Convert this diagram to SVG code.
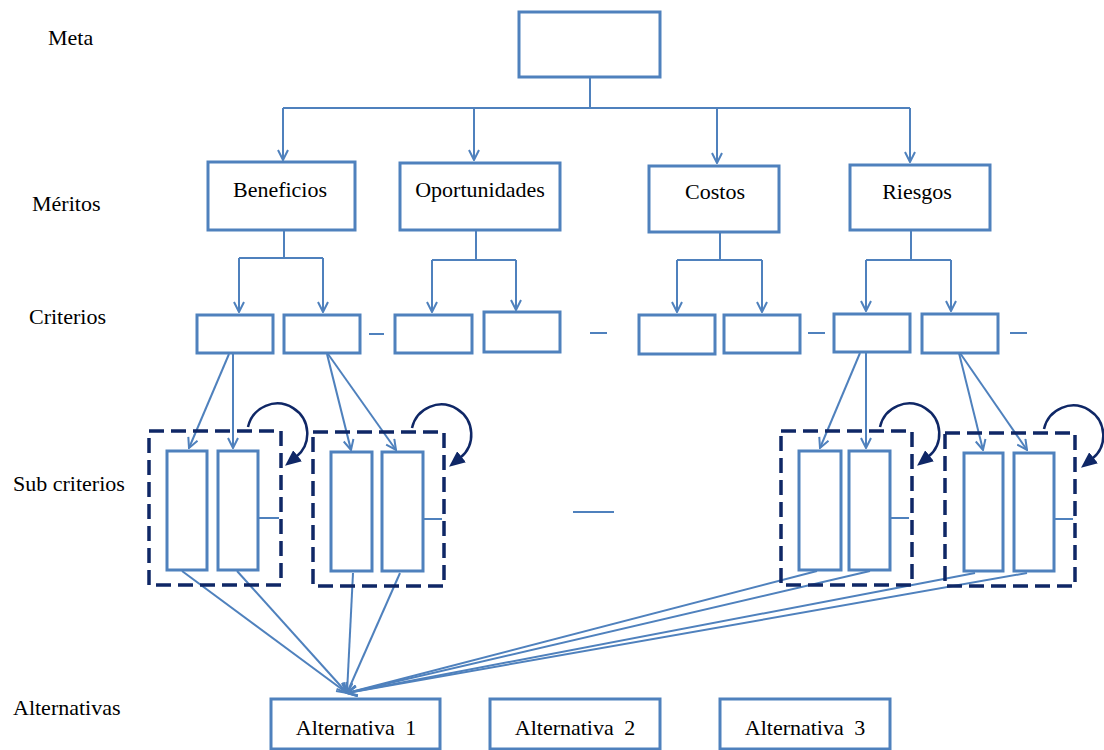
<svg xmlns="http://www.w3.org/2000/svg" width="1104" height="750" viewBox="0 0 1104 750">
<defs>
<style>
.box{fill:#fff;stroke:#4F81BD;stroke-width:3}
.con{fill:none;stroke:#4F81BD;stroke-width:2}
.dash{fill:none;stroke:#0F2766;stroke-width:3.5;stroke-dasharray:15 7}
.loop{fill:none;stroke:#0F2766;stroke-width:2.5}
.lbl{font-family:"Liberation Serif","Times New Roman",serif;font-size:22px;fill:#000}
.ctr{text-anchor:middle}
</style>
<marker id="av" viewBox="0 0 12 12" refX="11" refY="6" markerWidth="12" markerHeight="12" markerUnits="userSpaceOnUse" orient="auto">
<path d="M1,1 L11,6 L1,11" fill="none" stroke="#4F81BD" stroke-width="2"/>
</marker>
<marker id="ah" viewBox="0 0 16 14" refX="2" refY="7" markerWidth="16" markerHeight="14" markerUnits="userSpaceOnUse" orient="auto">
<path d="M0,0 L16,7 L0,14 Z" fill="#0F2766"/>
</marker>
</defs>

<g id="level-labels">
<text class="lbl" x="48" y="45">Meta</text>
<text class="lbl" x="32" y="211">Méritos</text>
<text class="lbl" x="29" y="324">Criterios</text>
<text class="lbl" x="13" y="491">Sub criterios</text>
<text class="lbl" x="13" y="715">Alternativas</text>
</g>

<g id="connectors">
<path class="con" d="M590,77 V108 M283,108 H910"/>
<path class="con" d="M283,108 V160" marker-end="url(#av)"/>
<path class="con" d="M474,108 V160" marker-end="url(#av)"/>
<path class="con" d="M717,108 V163" marker-end="url(#av)"/>
<path class="con" d="M910,108 V162" marker-end="url(#av)"/>
<path class="con" d="M284,231 V258 M239,258 H323"/>
<path class="con" d="M239,258 V312" marker-end="url(#av)"/>
<path class="con" d="M323,258 V312" marker-end="url(#av)"/>
<path class="con" d="M476,231 V260 M432,260 H516"/>
<path class="con" d="M432,260 V312" marker-end="url(#av)"/>
<path class="con" d="M516,260 V310" marker-end="url(#av)"/>
<path class="con" d="M720,233 V260 M677,260 H762"/>
<path class="con" d="M677,260 V312" marker-end="url(#av)"/>
<path class="con" d="M762,260 V312" marker-end="url(#av)"/>
<path class="con" d="M911,231 V260 M866,260 H951"/>
<path class="con" d="M866,260 V311" marker-end="url(#av)"/>
<path class="con" d="M951,260 V311" marker-end="url(#av)"/>
<path class="con" d="M229,354 L189,448" marker-end="url(#av)"/>
<path class="con" d="M233,354 L233,448" marker-end="url(#av)"/>
<path class="con" d="M327,354 L351,450" marker-end="url(#av)"/>
<path class="con" d="M328,354 L396,450" marker-end="url(#av)"/>
<path class="con" d="M860,353 L820,448" marker-end="url(#av)"/>
<path class="con" d="M866,353 L866,448" marker-end="url(#av)"/>
<path class="con" d="M959,353 L983,450" marker-end="url(#av)"/>
<path class="con" d="M960,353 L1027,450" marker-end="url(#av)"/>
<path class="con" d="M182,571 L347,693" marker-end="url(#av)"/>
<path class="con" d="M237,571 L347,693" marker-end="url(#av)"/>
<path class="con" d="M353,573 L347,693" marker-end="url(#av)"/>
<path class="con" d="M400,573 L347,693" marker-end="url(#av)"/>
<path class="con" d="M817,571 L347,693" marker-end="url(#av)"/>
<path class="con" d="M870,571 L347,693" marker-end="url(#av)"/>
<path class="con" d="M975,573 L347,693" marker-end="url(#av)"/>
<path class="con" d="M1027,573 L347,693" marker-end="url(#av)"/>
<path class="con" d="M369,334 H384 M590,333 H607 M808,333 H825 M1010,333 H1027 M573,512 H614"/>
</g>

<g id="meta"><rect class="box" x="519" y="12" width="141" height="65"/></g>

<g id="beneficios"><rect class="box" x="208" y="162" width="147" height="68"/><text class="lbl ctr" x="280" y="197">Beneficios</text></g>
<g id="oportunidades"><rect class="box" x="400" y="163" width="160" height="67"/><text class="lbl ctr" x="480" y="197">Oportunidades</text></g>
<g id="costos"><rect class="box" x="649" y="166" width="130" height="66"/><text class="lbl ctr" x="715" y="199">Costos</text></g>
<g id="riesgos"><rect class="box" x="850" y="165" width="140" height="65"/><text class="lbl ctr" x="917" y="199">Riesgos</text></g>

<g id="criterio-1"><rect class="box" x="197" y="315" width="76" height="38"/></g>
<g id="criterio-2"><rect class="box" x="284" y="315" width="76" height="38"/></g>
<g id="criterio-3"><rect class="box" x="395" y="315" width="77" height="38"/></g>
<g id="criterio-4"><rect class="box" x="484" y="312" width="76" height="40"/></g>
<g id="criterio-5"><rect class="box" x="639" y="315" width="76" height="39"/></g>
<g id="criterio-6"><rect class="box" x="724" y="315" width="76" height="38"/></g>
<g id="criterio-7"><rect class="box" x="834" y="314" width="76" height="38"/></g>
<g id="criterio-8"><rect class="box" x="922" y="314" width="76" height="39"/></g>

<g id="subcriterios-1">
<rect class="dash" x="149" y="431" width="132" height="154"/>
<rect class="box" x="167" y="451" width="40" height="119"/>
<rect class="box" x="218" y="451" width="40" height="119"/>
<path class="con" d="M258,518 H279"/>
<path class="loop" d="M248,427 A30,30 0 1 1 296,457" marker-end="url(#ah)"/>
</g>
<g id="subcriterios-2" transform="translate(164,1)">
<rect class="dash" x="149" y="431" width="131" height="154"/>
<rect class="box" x="167" y="451" width="41" height="119"/>
<rect class="box" x="218" y="451" width="41" height="119"/>
<path class="con" d="M259,518 H278"/>
<path class="loop" d="M248,427 A30,30 0 1 1 296,457" marker-end="url(#ah)"/>
</g>
<g id="subcriterios-3" transform="translate(632,0)">
<rect class="dash" x="149" y="431" width="131" height="154"/>
<rect class="box" x="167" y="451" width="42" height="119"/>
<rect class="box" x="217" y="451" width="41" height="119"/>
<path class="con" d="M258,518 H277"/>
<path class="loop" d="M248,427 A30,30 0 1 1 296,457" marker-end="url(#ah)"/>
</g>
<g id="subcriterios-4" transform="translate(796,2)">
<rect class="dash" x="149" y="431" width="130" height="153"/>
<rect class="box" x="168" y="451" width="39" height="118"/>
<rect class="box" x="218" y="451" width="40" height="118"/>
<path class="con" d="M258,517 H277"/>
<path class="loop" d="M248,427 A30,30 0 1 1 296,457" marker-end="url(#ah)"/>
</g>

<g id="alternativa-1"><rect class="box" x="271" y="699" width="169" height="50"/><text class="lbl ctr" x="356" y="735" word-spacing="5">Alternativa 1</text></g>
<g id="alternativa-2"><rect class="box" x="490" y="699" width="170" height="50"/><text class="lbl ctr" x="575" y="735" word-spacing="5">Alternativa 2</text></g>
<g id="alternativa-3"><rect class="box" x="720" y="699" width="170" height="50"/><text class="lbl ctr" x="805" y="735" word-spacing="5">Alternativa 3</text></g>
</svg>
